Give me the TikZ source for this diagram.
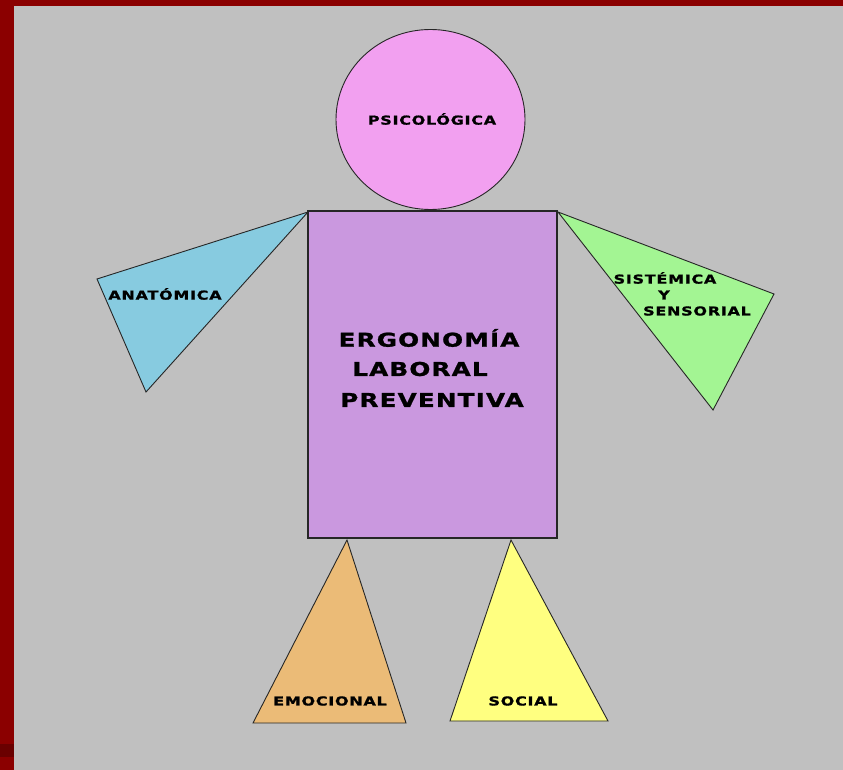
\documentclass[tikz,border=0pt]{standalone}
\usepackage{fontspec}
\newfontfamily\lblfont[FakeStretch=1.3,LetterSpace=6,BoldFeatures={FakeBold=1.2}]{DejaVu Sans}
\definecolor{frame}{HTML}{8B0000}
\definecolor{framedark}{HTML}{6A0000}
\definecolor{panel}{HTML}{C0C0C0}
\definecolor{headc}{HTML}{F2A0F0}
\definecolor{bodyc}{HTML}{CA98DF}
\definecolor{bluec}{HTML}{87CBE0}
\definecolor{greenc}{HTML}{A3F593}
\definecolor{orangec}{HTML}{EBBB77}
\definecolor{yellowc}{HTML}{FFFF80}
\tikzset{
  part/.style={draw=black!85, line width=0.9pt, line join=miter},
  small/.style={font=\lblfont\bfseries\fontsize{12.3}{14}\selectfont, inner sep=0pt},
  big/.style={font=\lblfont\bfseries\fontsize{19}{22}\selectfont, inner sep=0pt}
}
\begin{document}
\begin{tikzpicture}[x=1pt,y=-1pt]
\useasboundingbox (0,0) rectangle (843,770);
% background
\fill[frame] (0,0) rectangle (843,770);
\fill[framedark] (0,744) rectangle (14,757);
\fill[panel] (14,6) rectangle (843,770);
% coordinates
\coordinate (la) at (308,212);
\coordinate (lb) at (97,279);
\coordinate (lc) at (146,392);
\coordinate (ra) at (558,212);
\coordinate (rb) at (774,294);
\coordinate (rc) at (713,410);
\coordinate (ea) at (347,540);
\coordinate (eb) at (253,723);
\coordinate (ec) at (406,723);
\coordinate (sa) at (511,540);
\coordinate (sb) at (450,721);
\coordinate (sc) at (608,721);
% shapes
\draw[part, fill=bluec] (la) -- (lb) -- (lc) -- cycle;
\draw[part, fill=greenc] (ra) -- (rb) -- (rc) -- cycle;
\draw[part, fill=orangec] (ea) -- (eb) -- (ec) -- cycle;
\draw[part, fill=yellowc] (sa) -- (sb) -- (sc) -- cycle;
\draw[part, fill=headc] (430.5,119.5) ellipse [x radius=94.5, y radius=90];
\draw[part, fill=bodyc, line width=1.3pt] (308,211) rectangle (557,538);
% labels
\node[small] (psi) at (432,119) {PSICOLÓGICA};
\node[small] (ana) at (165,294) {ANATÓMICA};
\node[small] (sis) at (665,278) {SISTÉMICA};
\node[small] (y) at (664,295) {Y};
\node[small] (sen) at (697,311) {SENSORIAL};
\node[small] (emo) at (330,701) {EMOCIONAL};
\node[small] (soc) at (523,701) {SOCIAL};
\node[big] (erg) at (429,338) {ERGONOMÍA};
\node[big] (lab) at (420,369) {LABORAL};
\node[big] (pre) at (432,400) {PREVENTIVA};
\end{tikzpicture}
\end{document}
